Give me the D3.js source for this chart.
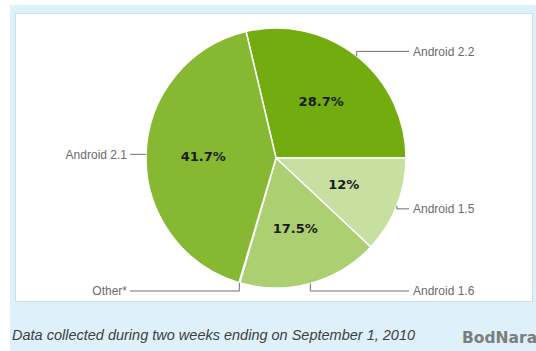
<!DOCTYPE html>
<html>
<head>
<meta charset="utf-8">
<script src="https://cdn.jsdelivr.net/npm/d3@7"></script>
<style>
  body { margin: 0; background: #fff; }
  svg { display: block; }
</style>
</head>
<body>
<div id="chart"></div>
<script>
const width = 536;
const height = 351;

// slices in drawing order, clockwise from just left of 12 o'clock
const versions = ['Android 2.2', 'Android 1.5', 'Android 1.6', 'Other*', 'Android 2.1'];
const shares = [28.7, 12, 17.5, 0.1, 41.7];
const shareLabels = ['28.7%', '12%', '17.5%', '', '41.7%'];
const sliceColors = ['#72ac0f', '#c7e0a1', '#accf72', '#86b832', '#86b832'];
const caption = 'Data collected during two weeks ending on September 1, 2010';

const cx = 276;
const cy = 158;
const radius = 130;

const svg = d3.select('#chart')
  .append('svg')
  .attr('width', width)
  .attr('height', height);

// light blue frame and white panel
svg.append('rect')
  .attr('x', 10).attr('y', 5)
  .attr('width', width - 10).attr('height', height - 5)
  .attr('fill', '#def0f9');

svg.append('rect')
  .attr('x', 15.5).attr('y', 13.5)
  .attr('width', 517).attr('height', 288)
  .attr('fill', '#fff')
  .attr('stroke', '#c9dfe9');

const data = versions.map((v, i) => ({ name: v, value: shares[i], label: shareLabels[i], color: sliceColors[i] }));

const startDeg = 90 - shares[0] / 100 * 360;
const pie = d3.pie()
  .sort(null)
  .value(d => d.value)
  .startAngle(startDeg * Math.PI / 180)
  .endAngle((startDeg + 360) * Math.PI / 180);

const arcs = pie(data);

const arc = d3.arc().innerRadius(0).outerRadius(radius);
const labelArc = d3.arc().innerRadius(radius * 0.56).outerRadius(radius * 0.56);

const g = svg.append('g')
  .attr('transform', `translate(${cx},${cy})`);

g.selectAll('path.slice')
  .data(arcs)
  .join('path')
  .attr('class', 'slice')
  .attr('d', arc)
  .attr('fill', d => d.data.color)
  .attr('stroke', '#fff')
  .attr('stroke-width', 1.5)
  .attr('stroke-linejoin', 'round');

g.selectAll('text.pct')
  .data(arcs.filter(d => d.data.label))
  .join('text')
  .attr('class', 'pct')
  .attr('transform', d => `translate(${labelArc.centroid(d)})`)
  .attr('text-anchor', 'middle')
  .attr('dy', '0.36em')
  .attr('font-family', 'DejaVu Sans, sans-serif')
  .attr('font-weight', 'bold')
  .attr('font-size', 13)
  .attr('fill', '#1b1b1b')
  .text(d => d.data.label);

// leader lines and names
const rightX = 413 - cx;
const leftX = 127 - cx;
const topY = -radius * 0.82;
const bottomY = radius + 3;

arcs.forEach(d => {
  const mid = (d.startAngle + d.endAngle) / 2;
  const ax = Math.sin(mid) * radius;
  const ay = -Math.cos(mid) * radius;
  const right = ax > 0;
  let ly = ay;
  if (ay > radius * 0.85) ly = bottomY;
  else if (ay < -radius * 0.6) ly = topY;
  else if (Math.abs(ay) > 10) ly = ay + 3;
  const tx = right ? rightX : leftX;
  const endX = right ? tx - 4 : tx + 3;

  g.append('path')
    .attr('d', d3.line()([[ax, ay], [ax, ly], [endX, ly]]))
    .attr('fill', 'none')
    .attr('stroke', '#707070')
    .attr('stroke-width', 1);

  g.append('text')
    .attr('x', tx)
    .attr('y', ly)
    .attr('dy', '0.35em')
    .attr('text-anchor', right ? 'start' : 'end')
    .attr('font-family', 'Liberation Sans, Arial, sans-serif')
    .attr('font-size', 12)
    .attr('fill', '#6b6b6b')
    .text(d.data.name);
});

// caption
svg.append('text')
  .attr('x', 12)
  .attr('y', 340)
  .attr('font-family', 'Liberation Sans, Arial, sans-serif')
  .attr('font-style', 'italic')
  .attr('font-size', 14.5)
  .attr('fill', '#3f3f3f')
  .text(caption);

svg.append('text')
  .attr('x', 462)
  .attr('y', 343)
  .attr('font-family', 'DejaVu Sans, sans-serif')
  .attr('font-weight', 'bold')
  .attr('font-size', 15.5)
  .attr('fill', '#7d7d7d')
  .text('BodNara');
</script>
</body>
</html>
